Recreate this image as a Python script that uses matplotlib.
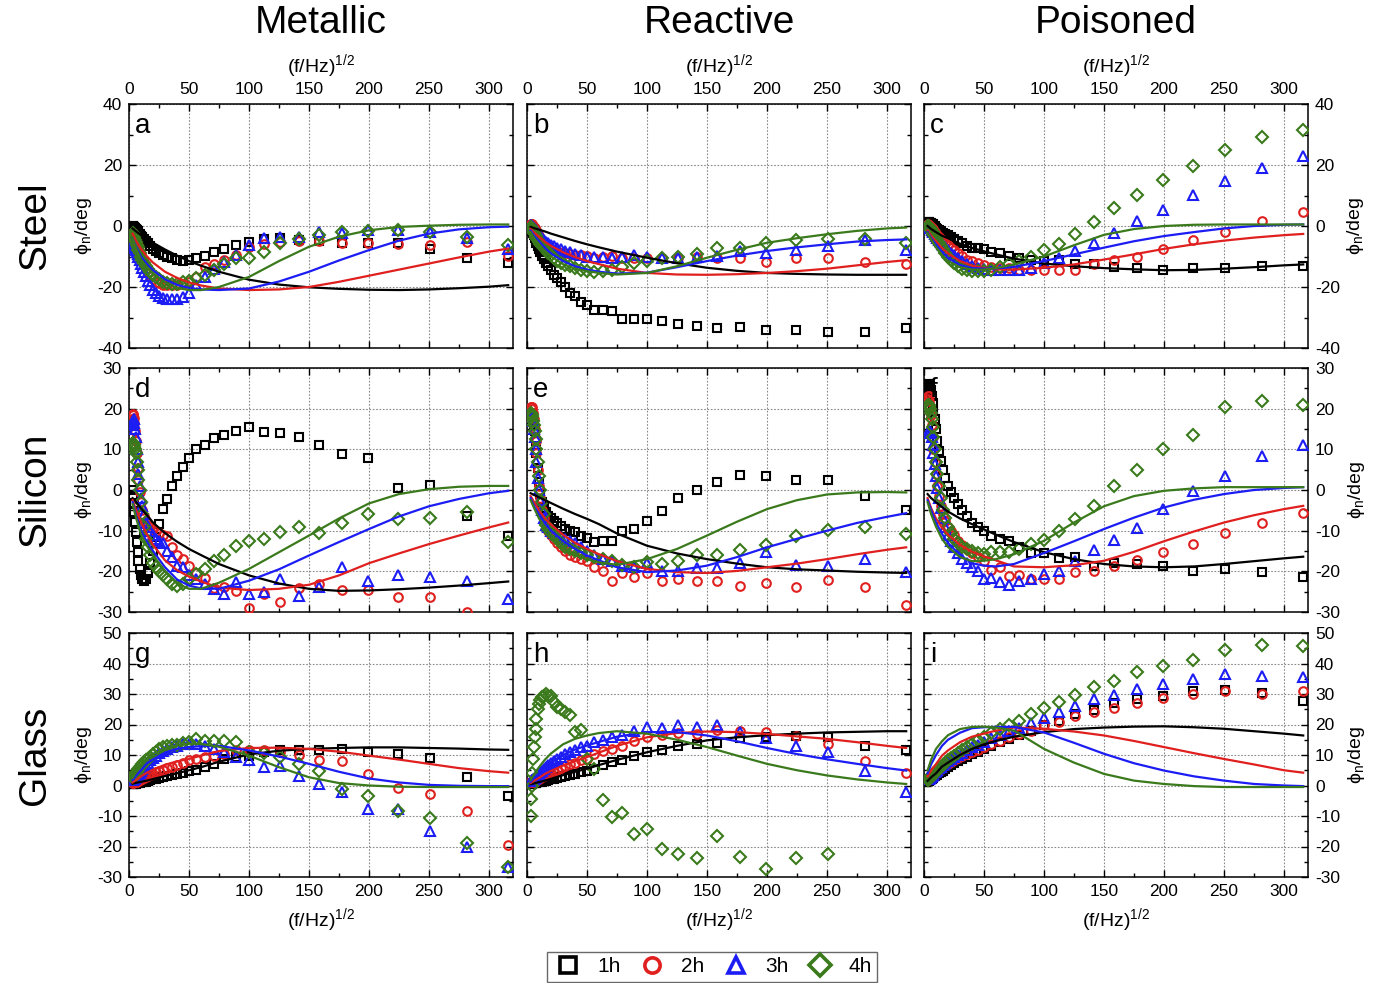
import matplotlib
matplotlib.use('Agg')
import matplotlib.pyplot as plt
from matplotlib.ticker import MultipleLocator
from matplotlib.lines import Line2D

plt.rcParams['font.family'] = ['Liberation Sans', 'DejaVu Sans']
plt.rcParams['axes.unicode_minus'] = False
plt.rcParams['mathtext.fontset'] = 'custom'
plt.rcParams['mathtext.rm'] = 'Liberation Sans'
plt.rcParams['mathtext.it'] = 'Liberation Sans:italic'
nan = float('nan')

# ---------------- data ----------------
X_PTS = [316.2, 281.8, 251.2, 223.9, 199.5, 177.8, 158.5, 141.3, 125.9, 112.2,
         100.0, 89.1, 79.4, 70.8, 63.1, 56.2, 50.1, 44.7, 39.8, 35.5,
         31.6, 28.2, 25.1, 22.4, 20.0, 17.8, 15.8, 14.1, 12.6, 11.2,
         10.0, 8.9, 7.9, 7.1, 6.3, 5.6, 5.0, 4.5, 4.0, 3.5, 3.2]
X_LINE = [3, 6, 10, 15, 20, 30, 40, 50, 60, 75, 100, 125, 150, 175, 200, 225, 250, 275, 300, 316]

SERIES = ['1h', '2h', '3h', '4h']
COLUMN_TITLES = ['Metallic', 'Reactive', 'Poisoned']
ROW_TITLES = ['Steel', 'Silicon', 'Glass']
PANEL_LETTERS = ['a', 'b', 'c', 'd', 'e', 'f', 'g', 'h', 'i']
X_TICKS = [0, 50, 100, 150, 200, 250, 300]

# panel a
A_1H = [-12.0, -10.4, -7.7, -5.5, -5.5, -5.5, -5.0, -4.5, -4.0, -4.2,
        -5.2, -6.3, -7.6, -8.5, -9.8, -10.6, -11.0, -11.5, -11.0, -10.5,
        -10.0, -9.5, -9.0, -8.2, -7.4, -6.6, -5.6, -5.0, -4.3, -3.7,
        -3.2, -2.7, -2.2, -1.8, -1.4, -1.0, -0.7, -0.4, -0.2, 0.0, 0.1]
A_2H = [-9.9, -5.4, -6.3, -6.0, -5.7, -5.7, -4.8, -4.8, -5.2, -6.0,
        -6.8, -9.5, -11.0, -12.5, -13.4, -16.7, -18.3, -19.0, -19.4, -19.5,
        -19.4, -19.2, -18.8, -18.3, -17.5, -16.5, -15.5, -14.0, -12.5, -11.0,
        -9.5, -8.5, -7.5, -6.5, -5.7, -5.0, -4.3, -3.7, -3.2, -2.7, -2.3]
A_3H = [-7.4, -4.0, -1.9, -1.3, -1.3, -2.2, -1.9, -3.5, -3.5, -4.0,
        -6.3, -9.5, -11.7, -14.0, -16.7, -19.5, -22.0, -23.3, -23.8, -24.0,
        -24.0, -23.5, -23.0, -22.0, -21.0, -19.5, -18.0, -16.5, -15.0, -13.8,
        -12.5, -11.3, -10.2, -9.3, -8.5, -7.8, -7.2, -6.6, -6.0, -5.5, -5.0]
A_4H = [-6.3, -3.5, -1.9, -1.3, -1.6, -2.1, -3.0, -4.3, -5.7, -8.5,
        -10.4, -10.6, -12.3, -14.5, -16.1, -17.2, -18.0, -18.3, -19.0, -19.0,
        -18.7, -18.2, -17.5, -16.8, -16.0, -15.0, -14.0, -13.0, -12.0, -11.0,
        -10.0, -9.0, -8.0, -7.0, -6.2, -5.4, -4.7, -4.0, -3.4, -2.8, -2.3]
A_FIT_1H = [-0.8, -1.8, -3.0, -4.3, -5.5, -7.7, -9.7, -11.5, -13.0, -15.0, -17.6, -19.2, -20.1, -20.6, -20.9, -21.0, -20.8, -20.4, -19.9, -19.4]
A_FIT_2H = [-2.5, -5.0, -7.5, -10.0, -12.0, -15.0, -17.0, -18.5, -19.5, -20.5, -21.0, -20.8, -20.0, -18.3, -16.3, -14.3, -12.3, -10.3, -8.4, -7.4]
A_FIT_3H = [-4.0, -7.0, -10.0, -12.5, -14.5, -17.5, -19.3, -20.3, -20.8, -21.0, -20.5, -18.2, -15.0, -11.3, -7.9, -4.8, -2.5, -1.1, -0.4, -0.2]
A_FIT_4H = [-4.0, -7.5, -11.0, -13.5, -15.5, -18.5, -20.3, -21.0, -21.0, -20.0, -16.7, -11.5, -6.8, -3.5, -1.4, -0.3, 0.1, 0.4, 0.5, 0.5]

# panel b
B_1H = [-33.4, -34.8, -34.8, -34.2, -34.0, -33.2, -33.4, -32.9, -32.0, -31.0,
        -30.5, -30.4, -30.4, -28.0, -27.7, -27.6, -26.0, -25.0, -23.0, -22.0,
        -20.0, -18.5, -17.0, -16.0, -14.5, -13.0, -12.0, -10.8, -9.9, -8.6,
        -7.6, -6.6, -5.6, -4.7, -3.8, -3.0, -2.3, -1.7, -1.2, -0.7, -0.3]
B_2H = [-12.4, -11.8, -10.6, -10.4, -11.8, -10.4, -10.4, -10.2, -10.4, -10.4,
        -10.4, -10.4, -10.4, -9.9, -10.2, -10.4, -9.9, -9.6, -9.5, -9.2,
        -9.0, -8.7, -8.3, -7.9, -7.5, -7.0, -6.5, -5.8, -5.0, -4.2,
        -3.4, -2.7, -2.0, -1.4, -0.8, -0.3, 0.1, 0.4, 0.6, 0.7, 0.7]
B_3H = [-7.9, -4.6, -6.6, -8.0, -8.8, -8.2, -9.9, -10.1, -10.4, -10.4,
        -10.1, -9.6, -10.1, -10.4, -10.1, -10.1, -10.1, -9.6, -9.1, -8.6,
        -8.2, -7.7, -7.2, -6.7, -6.2, -5.7, -5.1, -4.5, -3.9, -3.3,
        -2.7, -2.2, -1.7, -1.3, -0.9, -0.6, -0.3, -0.1, 0.1, 0.2, 0.3]
B_4H = [-5.7, -4.4, -4.1, -4.6, -5.7, -7.3, -7.3, -9.1, -10.1, -10.4,
        -11.5, -12.1, -13.4, -14.3, -14.8, -15.1, -14.8, -14.3, -13.7, -13.2,
        -12.8, -12.2, -11.5, -10.5, -9.5, -8.8, -8.0, -7.2, -6.5, -6.0,
        -5.2, -4.5, -3.8, -3.2, -2.7, -2.2, -1.7, -1.3, -0.9, -0.6, -0.3]
B_FIT_1H = [-0.3, -0.7, -1.2, -1.8, -2.5, -3.7, -4.9, -6.0, -7.0, -8.4, -10.4, -12.2, -13.7, -14.7, -15.4, -15.7, -15.9, -16.0, -16.0, -16.0]
B_FIT_2H = [-1.0, -2.2, -3.5, -5.2, -6.5, -8.6, -10.2, -11.5, -12.5, -14.0, -15.4, -15.9, -16.0, -15.8, -15.4, -14.8, -14.0, -12.9, -11.8, -11.2]
B_FIT_3H = [-1.5, -3.2, -5.0, -7.2, -9.0, -11.5, -13.2, -14.3, -15.0, -15.6, -15.3, -13.5, -11.5, -9.7, -8.2, -7.0, -6.0, -5.1, -4.6, -4.4]
B_FIT_4H = [-2.0, -4.0, -6.0, -8.3, -10.0, -12.5, -14.0, -14.8, -15.4, -15.9, -15.4, -13.2, -10.4, -7.8, -5.5, -4.0, -2.7, -1.6, -0.8, -0.5]

# panel c
C_1H = [-13.2, -13.2, -13.7, -13.7, -14.5, -13.7, -13.4, -12.6, -12.3, -11.2,
        -11.5, -11.0, -10.4, -9.9, -8.8, -8.4, -7.7, -7.3, -7.1, -6.6,
        -5.7, -4.9, -4.2, -3.6, -3.0, -2.6, -2.2, -1.7, -1.3, -0.9,
        -0.5, -0.1, 0.2, 0.5, 0.7, 0.9, 1.0, 1.1, 1.2, 1.2, 1.2]
C_2H = [4.7, 1.6, -1.9, -4.7, -7.7, -10.2, -11.2, -12.6, -14.3, -14.5,
        -14.5, -14.5, -14.3, -13.9, -13.7, -13.5, -12.8, -12.0, -11.5, -11.0,
        -9.9, -9.0, -7.9, -7.1, -6.2, -5.5, -4.9, -4.2, -3.6, -3.0,
        -2.5, -2.0, -1.5, -1.1, -0.7, -0.4, -0.1, 0.1, 0.3, 0.4, 0.5]
C_3H = [23.0, 19.0, 14.6, 10.1, 5.3, 1.6, -2.4, -5.7, -8.2, -10.4,
        -12.0, -13.7, -14.5, -14.5, -14.5, -14.3, -14.0, -13.7, -13.2, -12.4,
        -11.5, -10.5, -9.5, -8.8, -7.9, -7.0, -6.1, -5.3, -4.6, -3.9,
        -3.2, -2.6, -2.1, -1.6, -1.2, -0.8, -0.5, -0.2, 0.0, 0.2, 0.3]
C_4H = [31.6, 29.3, 24.9, 19.7, 15.0, 10.1, 5.8, 1.4, -2.7, -6.0,
        -8.0, -10.2, -11.5, -12.6, -13.4, -14.3, -14.8, -14.8, -14.8, -14.5,
        -14.0, -13.2, -12.2, -11.0, -10.0, -8.8, -7.7, -6.6, -5.6, -4.7,
        -3.9, -3.2, -2.5, -2.0, -1.5, -1.1, -0.8, -0.5, -0.3, -0.1, 0.0]
C_FIT_1H = [0.0, -1.0, -2.0, -3.2, -4.0, -5.8, -7.2, -8.3, -9.3, -10.7, -12.3, -13.2, -13.8, -14.2, -14.5, -14.4, -14.0, -13.5, -12.9, -12.6]
C_FIT_2H = [-1.5, -3.2, -5.0, -7.2, -9.0, -11.5, -13.0, -13.8, -14.2, -14.3, -13.7, -12.6, -11.0, -9.3, -7.5, -6.0, -4.8, -3.8, -3.0, -2.6]
C_FIT_3H = [-2.0, -4.0, -6.0, -8.5, -10.5, -12.8, -13.8, -14.0, -13.9, -13.4, -11.5, -9.3, -7.1, -5.0, -3.3, -2.0, -0.8, 0.0, 0.4, 0.5]
C_FIT_4H = [-2.3, -4.5, -7.0, -9.5, -11.5, -13.5, -14.3, -14.3, -13.8, -12.6, -10.0, -6.3, -2.9, -1.0, 0.0, 0.4, 0.5, 0.5, 0.5, 0.5]

# panel d
D_1H = [-11.2, -6.3, 1.2, 0.5, 7.9, 8.9, 11.1, 13.0, 14.0, 14.2,
        15.6, 14.6, 13.6, 12.8, 11.1, 10.1, 7.9, 5.6, 3.5, 1.1,
        -2.2, -4.7, -8.4, -11.5, -14.9, -18.0, -20.5, -21.8, -22.3, -22.0,
        -21.0, -19.5, -17.5, -15.3, -12.8, -10.3, -7.8, -5.5, -3.3, -1.5, 0.0]
D_2H = [-32.0, -30.0, -26.2, -26.2, -24.6, -24.6, -23.1, -24.0, -27.6, -25.6,
        -28.9, -24.9, -23.8, -24.0, -21.6, -20.5, -18.6, -17.0, -16.0, -14.0,
        -11.2, -11.0, -10.5, -10.0, -9.5, -9.0, -8.5, -7.5, -6.5, -5.0,
        -3.0, -0.5, 2.5, 5.5, 9.0, 12.0, 14.5, 16.5, 17.8, 18.5, 18.7]
D_3H = [-26.8, -22.3, -21.5, -21.0, -22.3, -19.0, -23.9, -26.0, -21.9, -25.2,
        -25.6, -22.7, -25.6, -24.3, -23.0, -22.0, -21.0, -19.0, -18.6, -16.5,
        -15.0, -13.0, -12.5, -12.0, -11.0, -10.0, -9.0, -8.0, -6.0, -4.0,
        -2.0, 1.0, 4.0, 7.0, 10.0, 13.0, 15.0, 16.5, 17.5, 17.0, 16.0]
D_4H = [-12.9, -5.5, -6.9, -7.1, -5.9, -8.1, -10.6, -9.2, -10.4, -12.0,
        -12.5, -13.7, -16.1, -17.4, -19.4, -20.7, -21.9, -23.0, -23.5, -23.0,
        -22.0, -21.0, -20.0, -19.0, -18.0, -16.0, -14.0, -12.0, -9.0, -6.0,
        -3.0, 0.0, 2.5, 5.0, 7.0, 9.0, 10.0, 10.5, 11.0, 11.5, 11.5]
D_FIT_1H = [-2.0, -3.0, -4.5, -6.2, -8.0, -10.6, -12.7, -14.5, -16.0, -18.2, -21.0, -23.0, -24.3, -24.8, -24.7, -24.4, -24.0, -23.5, -22.9, -22.5]
D_FIT_2H = [-2.5, -5.0, -8.0, -11.0, -13.5, -17.3, -19.7, -21.3, -22.5, -24.0, -24.6, -24.3, -23.3, -21.0, -18.0, -15.6, -13.3, -11.2, -9.2, -8.0]
D_FIT_3H = [-3.0, -6.5, -10.0, -12.8, -15.0, -19.0, -22.0, -23.5, -24.2, -24.3, -22.3, -19.5, -16.1, -12.8, -9.6, -6.5, -4.0, -2.2, -0.8, -0.2]
D_FIT_4H = [-3.5, -7.0, -11.0, -13.8, -16.0, -20.0, -23.0, -24.3, -24.3, -22.8, -19.4, -15.3, -11.2, -7.0, -3.3, -1.0, 0.2, 0.8, 1.0, 1.0]

# panel e
E_1H = [-4.8, -1.4, 2.5, 2.5, 3.5, 3.7, 1.9, 0.1, -2.0, -5.2,
        -7.5, -9.6, -10.2, -12.5, -12.5, -12.9, -11.8, -11.2, -10.4, -10.0,
        -9.5, -8.8, -8.2, -7.5, -7.0, -6.3, -5.5, -4.5, -3.0, -1.0,
        2.0, 5.5, 9.0, 12.0, 14.5, 16.0, 17.0, 17.5, 18.0, 18.0, 18.0]
E_2H = [-28.3, -23.8, -22.1, -23.9, -22.9, -23.5, -22.3, -22.3, -21.9, -22.3,
        -20.5, -21.5, -20.5, -22.3, -20.0, -19.0, -17.5, -17.0, -16.5, -16.0,
        -15.0, -14.0, -13.0, -12.0, -11.0, -10.0, -9.0, -7.0, -5.0, -2.0,
        1.0, 5.0, 9.0, 12.0, 15.0, 17.5, 19.0, 20.0, 20.5, 20.5, 20.3]
E_3H = [-20.1, -17.0, -18.8, -18.4, -15.3, -18.0, -19.2, -19.2, -20.0, -20.0,
        -18.0, -19.0, -18.6, -17.4, -17.0, -16.0, -15.0, -14.0, -13.0, -12.5,
        -12.0, -11.5, -11.0, -10.5, -10.0, -9.0, -8.5, -7.0, -5.0, -2.5,
        0.0, 3.0, 7.0, 10.0, 13.0, 15.0, 17.0, 18.0, 18.5, 18.5, 18.0]
E_4H = [-10.8, -9.2, -9.8, -11.2, -13.5, -14.8, -16.0, -16.1, -17.4, -18.2,
        -17.8, -19.0, -18.4, -17.4, -17.0, -16.5, -16.0, -15.5, -15.0, -14.5,
        -14.0, -13.0, -12.0, -11.0, -10.5, -9.5, -8.5, -6.0, -3.0, 0.0,
        3.5, 7.0, 10.0, 12.5, 14.5, 16.0, 17.0, 18.0, 18.5, 18.8, 19.0]
E_FIT_1H = [-0.8, -1.2, -1.8, -2.5, -3.2, -4.6, -5.9, -7.1, -8.4, -10.7, -13.7, -15.6, -17.0, -18.1, -19.0, -19.5, -19.8, -20.1, -20.3, -20.4]
E_FIT_2H = [-1.5, -3.0, -5.0, -7.0, -8.5, -11.0, -13.0, -14.5, -15.8, -17.5, -19.4, -20.2, -20.4, -19.9, -19.0, -18.1, -17.0, -15.8, -14.7, -14.1]
E_FIT_3H = [-2.0, -4.0, -6.0, -8.2, -10.0, -12.5, -14.5, -16.1, -17.3, -19.0, -20.2, -19.8, -18.6, -16.5, -14.1, -12.0, -10.0, -8.1, -6.6, -5.7]
E_FIT_4H = [-2.5, -4.5, -7.0, -9.2, -11.0, -14.0, -16.0, -17.0, -17.8, -18.4, -17.0, -14.5, -11.2, -7.8, -4.7, -2.5, -1.1, -0.6, -0.5, -0.6]

# panel f
F_1H = [-21.5, -20.2, -19.4, -19.8, -18.8, -18.2, -18.0, -18.8, -16.4, -16.6,
        -15.5, -15.5, -14.1, -12.5, -12.0, -11.4, -10.0, -9.2, -8.0, -6.5,
        -5.0, -3.5, -2.0, -0.5, 1.0, 3.0, 5.0, 7.2, 9.5, 12.0,
        15.0, 17.5, 19.5, 21.5, 23.0, 24.5, 25.5, 26.0, 26.0, 25.5, 25.0]
F_2H = [-5.7, -8.1, -10.6, -13.4, -15.2, -17.1, -18.8, -20.0, -20.2, -21.9,
        -22.0, -22.0, -20.9, -21.2, -19.0, -19.6, -17.4, -16.5, -15.5, -14.5,
        -13.5, -12.5, -11.0, -10.0, -9.0, -7.5, -6.0, -4.0, -1.5, 1.0,
        4.0, 7.0, 10.0, 13.0, 16.0, 18.5, 20.5, 22.0, 23.0, 23.0, 22.5]
F_3H = [11.1, 8.4, 3.5, -0.2, -4.7, -9.4, -12.3, -14.8, -17.4, -20.0,
        -20.7, -22.0, -22.3, -23.4, -22.5, -21.6, -21.9, -20.0, -19.0, -18.0,
        -17.0, -15.5, -14.0, -12.5, -11.0, -9.0, -7.0, -4.5, -2.0, 0.5,
        3.5, 6.5, 9.0, 11.0, 13.0, 14.0, 14.5, 14.5, 14.5, 14.0, 14.0]
F_4H = [21.0, 21.8, 20.3, 13.6, 10.1, 4.8, 1.1, -4.0, -7.1, -10.2,
        -12.3, -13.4, -14.5, -15.3, -15.3, -15.2, -15.7, -15.5, -15.0, -14.5,
        -14.0, -13.0, -12.0, -10.5, -9.0, -7.0, -5.0, -2.0, 1.0, 4.0,
        7.0, 10.0, 13.0, 15.5, 17.5, 19.0, 20.0, 20.5, 21.0, 21.0, 20.5]
F_FIT_1H = [-1.0, -2.0, -3.0, -4.2, -5.3, -7.0, -8.4, -9.7, -11.0, -12.8, -15.3, -17.0, -18.2, -18.8, -19.0, -18.8, -18.2, -17.5, -16.8, -16.4]
F_FIT_2H = [-2.0, -4.5, -7.0, -9.3, -11.0, -13.5, -15.2, -16.3, -17.3, -18.8, -19.0, -18.5, -17.4, -15.2, -12.6, -10.2, -8.0, -6.2, -4.7, -3.9]
F_FIT_3H = [-2.5, -5.0, -8.0, -10.8, -13.0, -16.0, -18.0, -18.6, -18.8, -18.2, -15.5, -12.6, -9.6, -6.8, -4.3, -2.4, -1.0, 0.0, 0.5, 0.7]
F_FIT_4H = [-3.0, -6.0, -9.0, -12.0, -14.0, -16.5, -17.5, -17.4, -17.0, -15.8, -12.5, -8.0, -4.0, -1.5, -0.2, 0.4, 0.7, 0.7, 0.7, 0.7]

# panel g
G_1H = [-3.5, 2.7, 9.0, 10.4, 10.9, 12.0, 11.8, 11.7, 11.5, 11.0,
        9.8, 9.5, 8.7, 7.1, 6.0, 5.2, 4.9, 4.2, 3.8, 3.3,
        3.0, 2.7, 2.4, 2.2, 2.0, 1.7, 1.5, 1.3, 1.2, 1.1,
        1.0, 0.9, 0.8, 0.8, 0.7, 0.6, 0.6, 0.5, 0.5, 0.5, 0.5]
G_2H = [-19.5, -8.2, -2.7, -0.8, 3.8, 8.0, 8.2, 10.0, 10.9, 11.7,
        11.8, 11.8, 10.4, 9.8, 9.3, 8.7, 8.2, 7.3, 6.6, 6.2,
        5.8, 5.2, 4.7, 4.3, 3.8, 3.4, 3.1, 2.8, 2.5, 2.2,
        2.0, 1.8, 1.6, 1.5, 1.3, 1.2, 1.1, 1.0, 1.0, 0.9, 0.9]
G_3H = [-26.6, -20.0, -14.8, -7.7, -7.7, -2.2, 0.5, 3.0, 6.3, 6.2,
        8.2, 9.3, 11.0, 12.0, 13.0, 13.5, 13.5, 13.5, 13.0, 12.5,
        12.0, 11.3, 10.5, 9.8, 9.0, 8.3, 7.5, 6.8, 6.0, 5.3,
        4.7, 4.2, 3.8, 3.4, 3.0, 2.8, 2.5, 2.3, 2.1, 2.0, 1.9]
G_4H = [-26.6, -18.8, -10.6, -8.4, -3.3, -1.1, 4.9, 6.9, 9.3, 10.5,
        10.9, 14.2, 14.5, 14.5, 14.5, 15.3, 14.2, 14.0, 13.4, 13.2,
        13.0, 12.5, 12.0, 11.0, 10.2, 9.5, 8.8, 8.3, 7.8, 7.0,
        6.5, 6.0, 5.5, 5.0, 4.5, 4.0, 3.5, 3.2, 2.9, 2.7, 2.5]
G_FIT_1H = [0.6, 0.9, 1.2, 1.6, 2.1, 3.1, 4.0, 5.0, 6.0, 7.8, 10.2, 11.4, 12.0, 12.3, 12.5, 12.5, 12.3, 12.1, 11.8, 11.7]
G_FIT_2H = [1.0, 1.8, 3.0, 4.2, 5.2, 6.8, 7.9, 8.7, 9.8, 11.3, 12.3, 12.4, 12.0, 11.1, 9.8, 8.5, 7.1, 5.7, 4.7, 4.2]
G_FIT_3H = [1.8, 3.3, 5.0, 7.3, 8.5, 10.8, 12.0, 12.6, 12.9, 13.0, 11.5, 9.5, 7.1, 4.5, 2.3, 1.0, 0.2, -0.1, -0.2, -0.2]
G_FIT_4H = [2.5, 4.5, 6.5, 8.8, 10.2, 12.2, 13.2, 13.7, 13.6, 12.7, 9.8, 6.0, 2.7, 0.8, 0.0, -0.4, -0.5, -0.5, -0.5, -0.5]

# panel h
H_1H = [11.7, 13.1, 15.8, 16.1, 16.0, 15.5, 14.0, 13.7, 12.8, 11.7,
        10.9, 9.6, 8.4, 7.7, 6.6, 5.5, 4.9, 4.4, 3.8, 3.5,
        3.2, 2.8, 2.5, 2.2, 2.0, 1.8, 1.6, 1.4, 1.3, 1.2,
        1.1, 1.0, 0.9, 0.8, 0.8, 0.7, 0.7, 0.6, 0.6, 0.6, 0.6]
H_2H = [4.0, 8.0, 13.7, 16.2, 17.5, 18.0, 18.3, 16.9, 17.2, 16.4,
        15.8, 14.5, 12.8, 12.0, 11.3, 10.4, 8.7, 8.2, 7.5, 7.0,
        6.3, 5.8, 5.2, 4.7, 4.2, 3.8, 3.4, 3.0, 2.7, 2.4,
        2.2, 2.0, 1.8, 1.6, 1.5, 1.4, 1.3, 1.2, 1.1, 1.1, 1.0]
H_3H = [-2.0, 4.9, 10.9, 12.9, 15.6, 17.5, 19.9, 19.3, 19.7, 18.8,
        19.1, 18.0, 16.4, 15.8, 14.8, 14.2, 13.1, 12.5, 11.8, 11.0,
        10.3, 9.5, 8.7, 8.0, 7.3, 6.6, 6.0, 5.4, 4.8, 4.3,
        3.8, 3.4, 3.0, 2.7, 2.4, 2.2, 2.0, 1.8, 1.7, 1.6, 1.5]
H_4H = [nan, nan, -22.6, -23.7, -27.3, -23.3, -16.6, -23.7, -22.6, -20.8,
        -14.2, -15.8, -9.1, -10.2, -4.9, 5.5, 8.7, 18.3, 17.5, 23.0,
        24.0, 25.1, 25.7, 27.3, 29.2, 29.5, 30.0, 29.5, 28.9, 28.0,
        26.8, 25.1, 21.9, 18.6, 15.8, 12.6, 8.7, 4.0, 0.0, -4.4, -10.0]
H_FIT_1H = [0.4, 0.7, 1.1, 1.6, 2.2, 3.4, 4.5, 5.5, 6.7, 8.4, 10.9, 13.0, 14.8, 15.8, 16.5, 17.0, 17.4, 17.6, 17.8, 17.8]
H_FIT_2H = [0.8, 1.6, 2.5, 3.8, 4.8, 6.5, 8.0, 9.3, 10.8, 13.0, 15.8, 17.2, 17.7, 17.5, 16.9, 16.1, 15.3, 14.2, 13.0, 12.3]
H_FIT_3H = [1.2, 2.5, 4.0, 6.0, 7.5, 10.0, 11.8, 13.1, 14.3, 16.0, 17.5, 17.5, 16.4, 14.5, 12.3, 10.3, 8.6, 7.1, 5.7, 4.9]
H_FIT_4H = [1.8, 3.8, 6.0, 8.5, 10.5, 13.5, 15.3, 16.4, 17.2, 17.8, 17.0, 15.0, 12.6, 9.8, 7.1, 5.0, 3.3, 2.0, 1.0, 0.5]

# panel i
I_1H = [27.7, 30.3, 31.4, 31.1, 29.5, 28.4, 27.1, 24.9, 23.5, 21.3,
        19.7, 18.0, 16.4, 15.3, 14.2, 13.0, 12.0, 11.0, 10.3, 9.5,
        8.8, 8.0, 7.3, 6.6, 6.0, 5.4, 4.9, 4.4, 4.0, 3.6,
        3.3, 3.0, 2.7, 2.4, 2.2, 2.0, 1.8, 1.7, 1.6, 1.5, 1.4]
I_2H = [30.9, 30.1, 30.9, 30.1, 28.7, 27.1, 25.5, 24.0, 22.7, 20.8,
        19.7, 18.0, 16.8, 15.8, 14.7, 13.6, 12.6, 11.8, 11.0, 10.3,
        9.6, 9.0, 8.4, 7.8, 7.2, 6.6, 6.0, 5.5, 5.0, 4.6,
        4.2, 3.8, 3.4, 3.1, 2.8, 2.5, 2.3, 2.1, 2.0, 1.9, 1.8]
I_3H = [35.7, 36.0, 36.6, 35.0, 33.3, 31.7, 29.8, 28.4, 26.2, 24.0,
        22.2, 20.5, 19.0, 17.8, 16.6, 15.5, 14.4, 13.4, 12.5, 11.6,
        10.8, 10.0, 9.3, 8.6, 7.9, 7.3, 6.7, 6.1, 5.6, 5.1,
        4.7, 4.3, 3.9, 3.5, 3.2, 2.9, 2.6, 2.4, 2.2, 2.1, 2.0]
I_4H = [45.7, 46.1, 44.5, 41.2, 39.3, 37.2, 34.4, 32.2, 29.8, 27.3,
        25.4, 23.5, 21.3, 19.9, 18.6, 17.3, 16.0, 14.8, 13.7, 12.6,
        11.6, 10.7, 9.8, 9.0, 8.2, 7.5, 6.8, 6.2, 5.6, 5.1,
        4.6, 4.2, 3.8, 3.4, 3.1, 2.8, 2.5, 2.3, 2.1, 2.0, 1.9]
I_FIT_1H = [1.5, 2.7, 4.0, 6.2, 7.5, 10.0, 12.0, 13.5, 14.6, 16.0, 17.5, 18.5, 19.0, 19.3, 19.4, 19.1, 18.6, 17.8, 17.0, 16.4]
I_FIT_2H = [3.0, 5.0, 7.0, 9.8, 11.5, 14.2, 16.0, 17.0, 18.0, 19.0, 18.6, 17.7, 16.4, 14.6, 12.6, 10.6, 8.7, 6.9, 5.0, 4.2]
I_FIT_3H = [4.0, 7.0, 10.0, 13.0, 15.0, 17.3, 18.8, 19.1, 19.2, 19.2, 17.4, 14.0, 10.4, 7.3, 4.9, 3.0, 1.6, 0.5, 0.0, -0.2]
I_FIT_4H = [5.0, 8.5, 12.0, 14.5, 16.5, 18.5, 19.2, 19.3, 19.0, 18.0, 12.0, 7.5, 3.8, 1.6, 0.5, -0.2, -0.5, -0.5, -0.5, -0.5]

PANEL_POINTS = [
    [A_1H, A_2H, A_3H, A_4H], [B_1H, B_2H, B_3H, B_4H], [C_1H, C_2H, C_3H, C_4H],
    [D_1H, D_2H, D_3H, D_4H], [E_1H, E_2H, E_3H, E_4H], [F_1H, F_2H, F_3H, F_4H],
    [G_1H, G_2H, G_3H, G_4H], [H_1H, H_2H, H_3H, H_4H], [I_1H, I_2H, I_3H, I_4H],
]
PANEL_FITS = [
    [A_FIT_1H, A_FIT_2H, A_FIT_3H, A_FIT_4H], [B_FIT_1H, B_FIT_2H, B_FIT_3H, B_FIT_4H],
    [C_FIT_1H, C_FIT_2H, C_FIT_3H, C_FIT_4H], [D_FIT_1H, D_FIT_2H, D_FIT_3H, D_FIT_4H],
    [E_FIT_1H, E_FIT_2H, E_FIT_3H, E_FIT_4H], [F_FIT_1H, F_FIT_2H, F_FIT_3H, F_FIT_4H],
    [G_FIT_1H, G_FIT_2H, G_FIT_3H, G_FIT_4H], [H_FIT_1H, H_FIT_2H, H_FIT_3H, H_FIT_4H],
    [I_FIT_1H, I_FIT_2H, I_FIT_3H, I_FIT_4H],
]

# ---------------- style ----------------
COLORS = ['#000000', '#e01f1f', '#1c1cf5', '#3b7a1c']
MARKERS = ['s', 'o', '^', 'D']
MSIZES = [5.8, 6.2, 6.8, 5.8]
ROW_YLIM = [(-40, 40), (-30, 30), (-30, 50)]
ROW_YMAJ = [20, 10, 10]
ROW_YMIN = [10, 5, 5]
YLABEL = 'ϕ$_\\mathrm{n}$/deg'
XLABEL = '(f/Hz)$^{1/2}$'

W, H = 1386, 983
COL_LEFT = [129, 527, 924]
ROW_TOP = [104, 368, 633]
AX_W, AX_H = 384, 244

fig = plt.figure(figsize=(W / 100, H / 100), dpi=100)

for r in range(3):
    for c in range(3):
        k = r * 3 + c
        left = COL_LEFT[c] / W
        bottom = 1 - (ROW_TOP[r] + AX_H) / H
        ax = fig.add_axes([left, bottom, AX_W / W, AX_H / H])
        ax.set_xlim(0, 320)
        ax.set_ylim(*ROW_YLIM[r])
        ax.set_xticks(X_TICKS)
        ax.xaxis.set_minor_locator(MultipleLocator(25))
        ax.yaxis.set_major_locator(MultipleLocator(ROW_YMAJ[r]))
        ax.yaxis.set_minor_locator(MultipleLocator(ROW_YMIN[r]))
        ax.grid(True, which='major', linestyle=(0, (1.5, 1.5)), color='#8a8a8a', linewidth=0.8)
        ax.set_axisbelow(True)
        ax.tick_params(which='both', direction='in', top=True, bottom=True, left=True, right=True,
                       labeltop=(r == 0), labelbottom=(r == 2),
                       labelleft=(c == 0), labelright=(c == 2), labelsize=12.5, width=1.0)
        ax.tick_params(which='major', length=5, pad=5)
        ax.tick_params(which='minor', length=3)
        for sp in ax.spines.values():
            sp.set_linewidth(1.1)

        for s in range(4):
            ax.plot(X_PTS, PANEL_POINTS[k][s], linestyle='none', marker=MARKERS[s],
                    ms=MSIZES[s], mfc='none', mec=COLORS[s], mew=1.5, zorder=3)
        for s in range(4):
            ax.plot(X_LINE, PANEL_FITS[k][s], color=COLORS[s], lw=1.6, zorder=4)

        ax.text(0.015, 0.965, PANEL_LETTERS[k], transform=ax.transAxes, ha='left', va='top',
                fontsize=20, zorder=5)

        if r == 0:
            ax.xaxis.set_label_position('top')
            ax.set_xlabel(XLABEL, fontsize=14, labelpad=7)
        if r == 2:
            ax.set_xlabel(XLABEL, fontsize=14, labelpad=5)
        if c == 0:
            ax.set_ylabel(YLABEL, fontsize=14, labelpad=2)
        if c == 2:
            ax.yaxis.set_label_position('right')
            ax.set_ylabel(YLABEL, fontsize=14, labelpad=4, rotation=90)

for c in range(3):
    fig.text((COL_LEFT[c] + AX_W / 2) / W, 1 - 23 / H, COLUMN_TITLES[c], ha='center', va='center',
             fontsize=28)
for r in range(3):
    fig.text(35 / W, 1 - (ROW_TOP[r] + AX_H / 2) / H, ROW_TITLES[r], ha='center', va='center',
             fontsize=28, rotation=90)

handles = [Line2D([], [], linestyle='none', marker=MARKERS[s], ms=11, mfc='none',
                  mec=COLORS[s], mew=2.6) for s in range(4)]
leg = fig.legend(handles, SERIES, loc='center', bbox_to_anchor=(712 / W, 1 - 967 / H), ncol=4,
                 fontsize=15, frameon=True, fancybox=False, edgecolor='#444444',
                 handletextpad=0.6, columnspacing=0.7, borderpad=0.25, handlelength=1.6)
leg.get_frame().set_linewidth(1.0)

fig.savefig('out.png', dpi=100)
